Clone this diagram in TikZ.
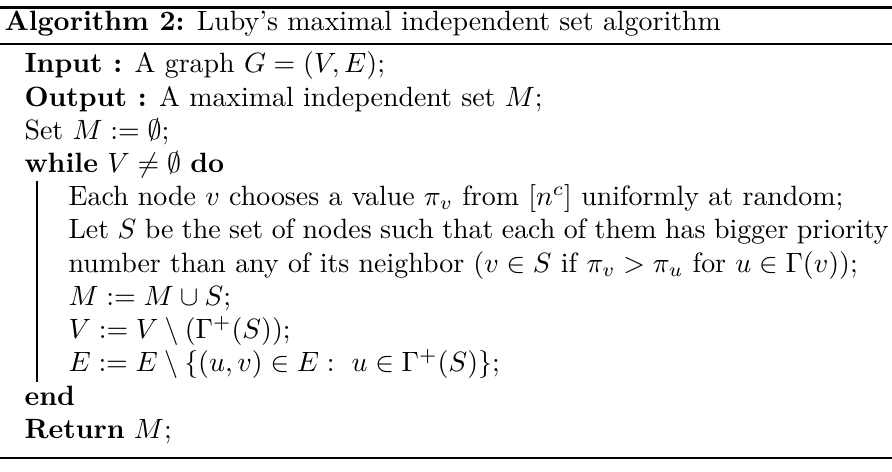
\documentclass[tikz,border=0pt]{standalone}
\begin{document}
\begin{tikzpicture}[x=0.3584pt,y=-0.3584pt,
  txt/.style={anchor=base west,inner sep=0pt,font=\fontsize{10}{12}\selectfont},
  algorule/.style={line width=0.8pt}]
\useasboundingbox (0,0) rectangle (892,472);
% rules
\draw[algorule] (0,7.5) -- (892,7.5);
\draw[algorule] (0,44) -- (892,44);
\draw[algorule] (0,458) -- (892,458);
% title
\node[txt] (title) at (4,31) {\textbf{Algorithm 2:} Luby's maximal independent set algorithm};
% lines
\node[txt] (input)  at (24,73) {\textbf{Input :} A graph $G=(V,E)$;};
\node[txt] (output) at (24,106.2) {\textbf{Output :} A maximal independent set $M$;};
\node[txt] (set)    at (24,139.4) {Set $M:=\emptyset$;};
\node[txt] (while)  at (24,172.6) {\textbf{while} $V\neq\emptyset$ \textbf{do}};
\node[txt] (each)   at (68,205.8) {Each node $v$ chooses a value $\pi_v$ from $[n^c]$ uniformly at random;};
\node[txt] (let)    at (68,239) {\makebox[293.9pt][s]{Let $S$ be the set of nodes such that each of them has bigger priority}};
\node[txt] (number) at (68,272.2) {number than any of its neighbor ($v\in S$ if $\pi_v>\pi_u$ for $u\in\Gamma(v)$);};
\node[txt] (mset)   at (68,305.4) {$M:=M\cup S$;};
\node[txt] (vset)   at (68,338.6) {$V:=V\setminus(\Gamma^+(S))$;};
\node[txt] (eset)   at (68,371.8) {$E:=E\setminus\{(u,v)\in E:\ u\in\Gamma^+(S)\}$;};
\node[txt] (end)    at (24,406) {\textbf{end}};
\node[txt] (ret)    at (24,438.2) {\textbf{Return} $M$;};
% block bar
\coordinate (bartop) at (37,181);
\coordinate (barbot) at (37,382);
\draw[line width=0.4pt] (bartop) -- (barbot);
\end{tikzpicture}
\end{document}
